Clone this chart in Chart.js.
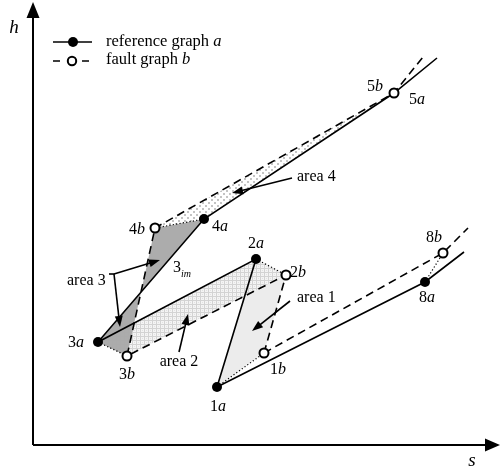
<!DOCTYPE html>
<html>
<head>
<meta charset="utf-8">
<script src="https://cdn.jsdelivr.net/npm/chart.js@4.4.0/dist/chart.umd.min.js"></script>
<style>
  html, body { margin: 0; padding: 0; background: #fff; }
  #wrap { width: 500px; height: 470px; }
</style>
</head>
<body>
<div id="wrap"><canvas id="cycleChart" width="500" height="470"></canvas></div>
<script>
// state points 1, 2, 3, 4, 5, 8 of reference graph a and fault graph b
// s = horizontal axis, h = vertical axis
const stateNumbers = ["1", "2", "3", "4", "5", "8"];
const refS = [184, 223, 65, 171, 361, 392];
const refH = [58, 186, 103, 226, 352, 163];
const faultS = [231, 253, 94, 122, 361, 410];
const faultH = [92, 170, 89, 217, 352, 192];
// where the curves carry on after point 5 and point 8
const refTailS = [404, 431];
const refTailH = [387, 193];
const faultTailS = [390, 435];
const faultTailH = [388, 217];
// axis extent
const sRange = [-33, 467];
const hRange = [-25, 445];

// area captions
const areaNames = ["area 1", "area 2", "area 3", "area 4"];
const areaTextS = [264, 146, 34, 264];
const areaTextH = [147, 83, 164, 268];

const serif = "'Liberation Serif', 'Times New Roman', serif";

function pt(sArr, hArr, i) {
    return { x: sArr[i], y: hArr[i] };
}
function path(sArr, hArr, idx, tailS, tailH, t) {
    const out = idx.map(i => pt(sArr, hArr, i));
    out.push(pt(tailS, tailH, t));
    return out;
}

// intersection of 3a-4a and 3b-4b (point 3im)
function crossing() {
    const p1 = pt(refS, refH, 2), p2 = pt(refS, refH, 3);
    const q1 = pt(faultS, faultH, 2), q2 = pt(faultS, faultH, 3);
    const d1x = p2.x - p1.x, d1y = p2.y - p1.y;
    const d2x = q2.x - q1.x, d2y = q2.y - q1.y;
    const den = d1x * d2y - d1y * d2x;
    const t = ((q1.x - p1.x) * d2y - (q1.y - p1.y) * d2x) / den;
    return { x: p1.x + t * d1x, y: p1.y + t * d1y };
}

// fill patterns
function makePattern(size, draw) {
    const c = document.createElement("canvas");
    c.width = size; c.height = size;
    draw(c.getContext("2d"));
    return c;
}
const gridTile = makePattern(4, g => {
    g.fillStyle = "rgba(170,170,170,0.45)";
    g.fillRect(0, 0, 4, 1);
    g.fillRect(0, 1, 1, 3);
    g.fillStyle = "rgba(170,170,170,0.25)";
    g.fillRect(2, 2, 1, 1);
});
const dotTile = makePattern(6, g => {
    g.fillStyle = "#ffffff";
    g.fillRect(0, 0, 6, 6);
    g.fillStyle = "#c4c4c4";
    g.fillRect(1, 1, 2, 2);
    g.fillRect(4, 4, 2, 2);
});

const linePaths = [
    { data: path(refS, refH, [0, 1, 2, 3, 4], refTailS, refTailH, 0), dash: [] },
    { data: path(refS, refH, [0, 5], refTailS, refTailH, 1), dash: [] },
    { data: path(faultS, faultH, [0, 1, 2, 3, 4], faultTailS, faultTailH, 0), dash: [8, 5] },
    { data: path(faultS, faultH, [0, 5], faultTailS, faultTailH, 1), dash: [8, 5] }
];
// dotted links a -> b
const linkIdx = [0, 1, 2, 3, 5];

const datasets = [];
datasets.push({
    label: "fault graph b",
    data: stateNumbers.map((n, i) => pt(faultS, faultH, i)),
    pointRadius: 4.5,
    pointBackgroundColor: "#ffffff",
    pointBorderColor: "#000000",
    pointBorderWidth: 2,
    showLine: false
});
datasets.push({
    label: "reference graph a",
    data: stateNumbers.map((n, i) => pt(refS, refH, i)),
    pointRadius: 5,
    pointBackgroundColor: "#000000",
    pointBorderColor: "#000000",
    pointBorderWidth: 0,
    showLine: false
});
linkIdx.forEach(i => {
    datasets.push({
        label: "link " + stateNumbers[i],
        data: [pt(refS, refH, i), pt(faultS, faultH, i)],
        showLine: true,
        borderColor: "#000000",
        borderWidth: 1.2,
        borderDash: [1.2, 2.2],
        pointRadius: 0
    });
});
linePaths.forEach((p, k) => {
    datasets.push({
        label: "path " + k,
        data: p.data,
        showLine: true,
        borderColor: "#000000",
        borderWidth: 1.6,
        borderDash: p.dash,
        pointRadius: 0,
        tension: 0
    });
});

function px(chart, p) {
    return { x: chart.scales.x.getPixelForValue(p.x), y: chart.scales.y.getPixelForValue(p.y) };
}
function polygon(ctx, chart, pts) {
    ctx.beginPath();
    pts.forEach((p, i) => {
        const q = px(chart, p);
        if (i === 0) ctx.moveTo(q.x, q.y); else ctx.lineTo(q.x, q.y);
    });
    ctx.closePath();
}
function arrowHead(ctx, x1, y1, x2, y2, len, half) {
    const a = Math.atan2(y2 - y1, x2 - x1);
    ctx.beginPath();
    ctx.moveTo(x2, y2);
    ctx.lineTo(x2 - len * Math.cos(a) + half * Math.sin(a), y2 - len * Math.sin(a) - half * Math.cos(a));
    ctx.lineTo(x2 - len * Math.cos(a) - half * Math.sin(a), y2 - len * Math.sin(a) + half * Math.cos(a));
    ctx.closePath();
    ctx.fill();
}
function arrow(ctx, chart, from, to) {
    const a = px(chart, from), b = px(chart, to);
    const ang = Math.atan2(b.y - a.y, b.x - a.x);
    ctx.beginPath();
    ctx.moveTo(a.x, a.y);
    ctx.lineTo(b.x - 6 * Math.cos(ang), b.y - 6 * Math.sin(ang));
    ctx.stroke();
    arrowHead(ctx, a.x, a.y, b.x, b.y, 11, 4);
}
// text made of upright and italic parts
function mixed(ctx, parts, x, y, align, size) {
    const fonts = parts.map(p => (p[1] ? "italic " : "") + size + "px " + serif);
    let w = 0;
    parts.forEach((p, i) => { ctx.font = fonts[i]; w += ctx.measureText(p[0]).width; });
    let cx = align === "center" ? x - w / 2 : align === "right" ? x - w : x;
    ctx.textAlign = "left";
    ctx.textBaseline = "middle";
    parts.forEach((p, i) => {
        ctx.font = fonts[i];
        ctx.fillText(p[0], cx, y);
        cx += ctx.measureText(p[0]).width;
    });
}

// label offsets in pixels from the marker: [dx, dy, align]
const refLabelPos = [[1, 20, "center"], [0, -15, "center"], [-14, 1, "right"], [8, 8, "left"], [15, 7, "left"], [2, 16, "center"]];
const faultLabelPos = [[14, 17, "center"], [4, -2, "left"], [0, 19, "center"], [-10, 2, "right"], [-11, -6, "right"], [-9, -15, "center"]];

const cyclePlugin = {
    id: "cycleDrawing",
    beforeDatasetsDraw(chart) {
        const ctx = chart.ctx;
        const r = i => pt(refS, refH, i);
        const f = i => pt(faultS, faultH, i);
        const X = crossing();
        ctx.save();
        // area 1
        polygon(ctx, chart, [r(0), r(1), f(1), f(0)]);
        ctx.fillStyle = "#ececec";
        ctx.fill();
        // area 2 base
        polygon(ctx, chart, [r(2), r(1), f(1), f(2)]);
        ctx.fillStyle = "#f4f4f4";
        ctx.fill();
        // area 3
        ctx.fillStyle = "#acacac";
        polygon(ctx, chart, [f(3), r(3), X]);
        ctx.fill();
        polygon(ctx, chart, [r(2), X, f(2)]);
        ctx.fill();
        // area 2 grid
        polygon(ctx, chart, [r(2), r(1), f(1), f(2)]);
        ctx.fillStyle = ctx.createPattern(gridTile, "repeat");
        ctx.fill();
        // area 4
        polygon(ctx, chart, [f(3), f(4), r(3)]);
        ctx.fillStyle = ctx.createPattern(dotTile, "repeat");
        ctx.fill();
        ctx.restore();
    },
    afterDraw(chart) {
        const ctx = chart.ctx;
        const xs = chart.scales.x, ys = chart.scales.y;
        const x0 = xs.getPixelForValue(0), y0 = ys.getPixelForValue(0);
        ctx.save();
        ctx.fillStyle = "#000";
        ctx.strokeStyle = "#000";
        // axes
        ctx.lineWidth = 2;
        ctx.beginPath();
        ctx.moveTo(x0, y0);
        ctx.lineTo(x0, 14);
        ctx.moveTo(x0, y0);
        ctx.lineTo(chart.width - 12, y0);
        ctx.stroke();
        arrowHead(ctx, x0, y0, x0, 2, 16, 6.5);
        arrowHead(ctx, x0, y0, chart.width, y0, 15, 6.5);
        ctx.font = "italic 19px " + serif;
        ctx.textAlign = "center";
        ctx.textBaseline = "middle";
        ctx.fillText("h", 14, 28);
        ctx.fillText("s", chart.width - 28, 461);

        // legend
        ctx.lineWidth = 1.6;
        ctx.beginPath();
        ctx.moveTo(53, 42);
        ctx.lineTo(92, 42);
        ctx.stroke();
        ctx.beginPath();
        ctx.arc(73, 42, 5, 0, Math.PI * 2);
        ctx.fill();
        ctx.beginPath();
        ctx.moveTo(53, 61); ctx.lineTo(60, 61);
        ctx.moveTo(82, 61); ctx.lineTo(89, 61);
        ctx.stroke();
        ctx.lineWidth = 2;
        ctx.beginPath();
        ctx.arc(72, 61, 4.2, 0, Math.PI * 2);
        ctx.fillStyle = "#fff";
        ctx.fill();
        ctx.stroke();
        ctx.fillStyle = "#000";
        mixed(ctx, [["reference graph ", false], ["a", true]], 106, 42, "left", 16.5);
        mixed(ctx, [["fault graph ", false], ["b", true]], 106, 60, "left", 16.5);

        // state labels
        stateNumbers.forEach((n, i) => {
            const a = px(chart, pt(refS, refH, i));
            const b = px(chart, pt(faultS, faultH, i));
            const ra = refLabelPos[i], fb = faultLabelPos[i];
            mixed(ctx, [[n, false], ["a", true]], a.x + ra[0], a.y + ra[1], ra[2], 16);
            mixed(ctx, [[n, false], ["b", true]], b.x + fb[0], b.y + fb[1], fb[2], 16);
        });
        // 3im
        const X = px(chart, crossing());
        ctx.font = "16px " + serif;
        ctx.textAlign = "left";
        ctx.textBaseline = "middle";
        ctx.fillText("3", X.x + 32, X.y - 24);
        ctx.font = "italic 10px " + serif;
        ctx.fillText("im", X.x + 40, X.y - 18);

        // area captions
        ctx.lineWidth = 1.6;
        areaNames.forEach((name, i) => {
            const p = px(chart, pt(areaTextS, areaTextH, i));
            ctx.font = "16px " + serif;
            ctx.textAlign = i === 1 ? "center" : "left";
            ctx.textBaseline = "middle";
            ctx.fillText(name, p.x, p.y);
        });
        arrow(ctx, chart, { x: 257, y: 144 }, { x: 219, y: 114 });
        arrow(ctx, chart, { x: 146, y: 93 }, { x: 155, y: 131 });
        arrow(ctx, chart, { x: 81, y: 171 }, { x: 127, y: 185 });
        arrow(ctx, chart, { x: 81, y: 171 }, { x: 87, y: 118 });
        const v = px(chart, { x: 81, y: 171 });
        ctx.beginPath();
        ctx.moveTo(v.x - 5, v.y);
        ctx.lineTo(v.x, v.y);
        ctx.stroke();
        arrow(ctx, chart, { x: 259, y: 267 }, { x: 199, y: 252 });
        ctx.restore();
    }
};

new Chart(document.getElementById("cycleChart").getContext("2d"), {
    type: "scatter",
    data: { datasets: datasets },
    options: {
        responsive: false,
        animation: false,
        layout: { padding: 0, autoPadding: false },
        scales: {
            x: { type: "linear", min: sRange[0], max: sRange[1], display: false },
            y: { type: "linear", min: hRange[0], max: hRange[1], display: false }
        },
        plugins: {
            legend: { display: false },
            tooltip: { enabled: false }
        }
    },
    plugins: [cyclePlugin]
});
</script>
</body>
</html>
